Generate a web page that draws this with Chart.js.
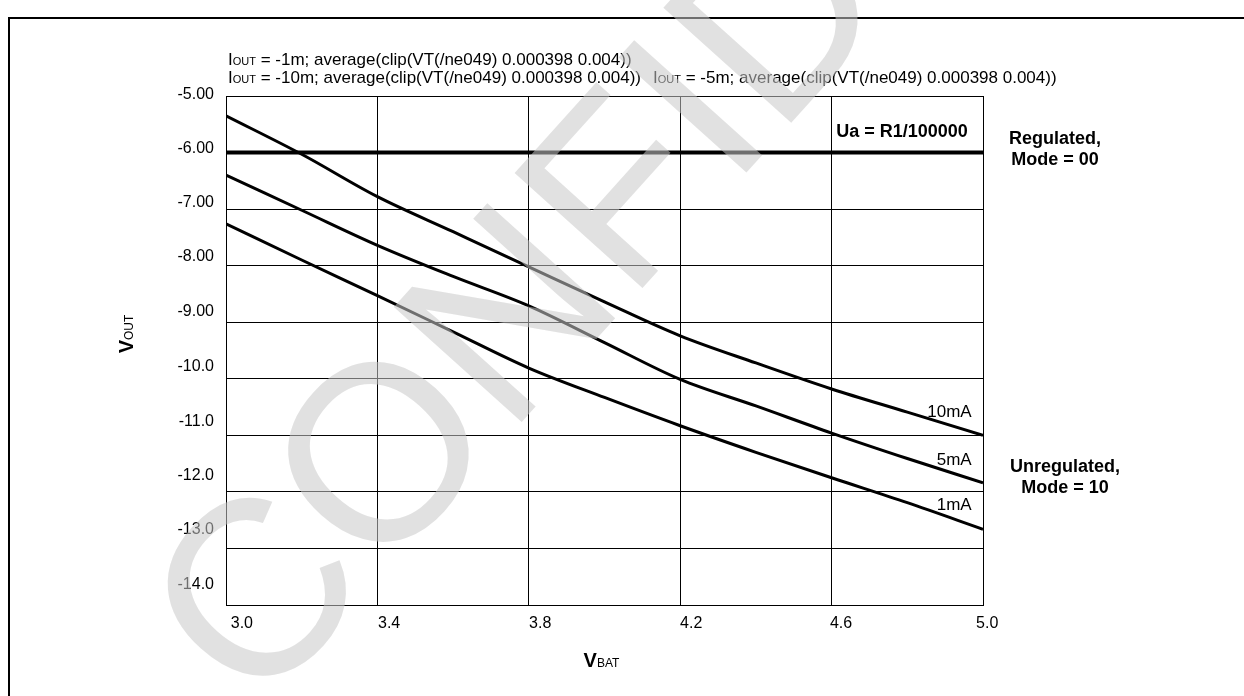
<!DOCTYPE html>
<html><head><meta charset="utf-8">
<script src="https://cdn.jsdelivr.net/npm/chart.js@4.4.1/dist/chart.umd.min.js"></script>
<style>html,body{margin:0;padding:0;background:#fff;}#wrap{width:1244px;height:696px;position:relative;}</style>
</head><body><div id="wrap"><canvas id="c" width="1244" height="696"></canvas></div>
<script>
// ---- data ----
const vbat = [3.0, 3.2, 3.4, 3.6, 3.8, 4.0, 4.2, 4.4, 4.6, 4.8, 5.0];
const vout10mA = [-5.35, -6.03, -6.78, -7.40, -8.02, -8.64, -9.24, -9.72, -10.18, -10.59, -11.00];
const vout5mA  = [-6.40, -7.02, -7.64, -8.19, -8.71, -9.36, -10.01, -10.48, -10.96, -11.41, -11.84];
const vout1mA  = [-7.26, -7.90, -8.53, -9.17, -9.81, -10.33, -10.83, -11.30, -11.75, -12.19, -12.66];
const regulatedX = [3.0, 5.0];
const regulatedY = [-6.0, -6.0];
const seriesNames = ['10mA', '5mA', '1mA'];
const xTicks = [3.0, 3.4, 3.8, 4.2, 4.6, 5.0];
const xTickLabels = ['3.0', '3.4', '3.8', '4.2', '4.6', '5.0'];
const yTicks = [-5, -6, -7, -8, -9, -10, -11, -12, -13, -14];
const yTickLabels = ['-5.00', '-6.00', '-7.00', '-8.00', '-9.00', '-10.0', '-11.0', '-12.0', '-13.0', '-14.0'];
const headerLabels = [
  ' = -1m; average(clip(VT(/ne049) 0.000398 0.004))',
  ' = -10m; average(clip(VT(/ne049) 0.000398 0.004))',
  ' = -5m; average(clip(VT(/ne049) 0.000398 0.004))'
];
const regLabel = 'Ua = R1/100000';

// ---- layout helpers (not data) ----
const xLabelShift = [0.042, 0.031, 0.030, 0.029, 0.025, 0.011];
const yLabelShift = [0.018, 0.075, 0.113, 0.158, 0.186, 0.208, 0.242, 0.287, 0.327, 0.367];
const FF = '"Liberation Sans", Arial, sans-serif';

function pts(xs, ys) { return xs.map((x, i) => ({ x: x, y: ys[i] })); }

function drawRuns(ctx, runs, x, y, align) {
  let w = 0;
  runs.forEach(r => { ctx.font = r.f; w += ctx.measureText(r.t).width; });
  let cx = align === 'center' ? x - w / 2 : (align === 'right' ? x - w : x);
  ctx.textAlign = 'left';
  runs.forEach(r => { ctx.font = r.f; ctx.fillText(r.t, cx, y); cx += ctx.measureText(r.t).width; });
  return w;
}

const textPlugin = {
  id: 'texts',
  beforeDraw(chart) {
    const ctx = chart.ctx;
    ctx.save();
    ctx.fillStyle = '#fff';
    ctx.fillRect(0, 0, chart.width, chart.height);
    ctx.strokeStyle = '#000';
    ctx.lineWidth = 2;
    ctx.beginPath();
    ctx.moveTo(9, 696); ctx.lineTo(9, 18); ctx.lineTo(1244, 18);
    ctx.stroke();
    ctx.restore();
  },
  afterDraw(chart) {
    const ctx = chart.ctx;
    const xs = chart.scales.x, ys = chart.scales.y;
    ctx.save();
    ctx.fillStyle = '#000';
    ctx.textBaseline = 'alphabetic';
    // header lines
    const big = '17px ' + FF, small = '11px ' + FF;
    drawRuns(ctx, [{ t: 'I', f: big }, { t: 'OUT', f: small }, { t: headerLabels[0], f: big }], 228, 65, 'left');
    const w = drawRuns(ctx, [{ t: 'I', f: big }, { t: 'OUT', f: small }, { t: headerLabels[1], f: big }], 228, 83, 'left');
    drawRuns(ctx, [{ t: 'I', f: big }, { t: 'OUT', f: small }, { t: headerLabels[2], f: big }], 228 + w + 12, 83, 'left');
    // axis titles
    drawRuns(ctx, [{ t: 'V', f: 'bold 20px ' + FF }, { t: 'BAT', f: '12px ' + FF }], (xs.left + xs.right) / 2 - 3, 667, 'center');
    ctx.save();
    ctx.translate(133, 334);
    ctx.rotate(-Math.PI / 2);
    drawRuns(ctx, [{ t: 'V', f: 'bold 20px ' + FF }, { t: 'OUT', f: '12px ' + FF }], 0, 0, 'center');
    ctx.restore();
    // annotations
    ctx.font = 'bold 18px ' + FF;
    ctx.textAlign = 'right';
    ctx.fillText(regLabel, xs.getPixelForValue(4.96), ys.getPixelForValue(-5.72));
    ctx.textAlign = 'center';
    ctx.fillText('Regulated,', 1055, 144);
    ctx.fillText('Mode = 00', 1055, 165);
    ctx.fillText('Unregulated,', 1065, 472);
    ctx.fillText('Mode = 10', 1065, 493);
    ctx.font = '17px ' + FF;
    ctx.textAlign = 'right';
    const lblY = [-10.67, -11.52, -12.32];
    seriesNames.forEach((n, i) => ctx.fillText(n, xs.getPixelForValue(4.97), ys.getPixelForValue(lblY[i])));
    // watermark
    ctx.save();
    ctx.translate(257, 716);
    ctx.rotate(-48 * Math.PI / 180);
    ctx.font = '250px ' + FF;
    ctx.textAlign = 'left';
    ctx.fillStyle = 'rgba(200,200,200,0.55)';
    ctx.fillText('CONFIDENTIAL', 0, 0);
    ctx.restore();
    ctx.restore();
  }
};

const xTickObjs = () => xTicks.map(v => ({ value: v, grid: true }))
  .concat(xTicks.map((v, i) => ({ value: v + xLabelShift[i], lbl: i })));
const yTickObjs = () => yTicks.map(v => ({ value: v, grid: true }))
  .concat(yTicks.map((v, i) => ({ value: v + yLabelShift[i], lbl: i })));
const gridColor = c => (c.tick && c.tick.grid) ? '#000' : 'rgba(0,0,0,0)';

const lineDs = (label, data, w) => ({
  label: label, data: data, borderColor: '#000', backgroundColor: '#000',
  borderWidth: w, pointRadius: 0, fill: false, cubicInterpolationMode: 'monotone'
});

new Chart(document.getElementById('c'), {
  type: 'line',
  data: {
    datasets: [
      lineDs('Regulated', pts(regulatedX, regulatedY), 4),
      lineDs(seriesNames[0], pts(vbat, vout10mA), 3),
      lineDs(seriesNames[1], pts(vbat, vout5mA), 3),
      lineDs(seriesNames[2], pts(vbat, vout1mA), 3)
    ]
  },
  options: {
    responsive: false, animation: false, devicePixelRatio: 1,
    layout: { padding: { left: 0, right: 261, top: 96, bottom: 0 } },
    plugins: { legend: { display: false }, tooltip: { enabled: false }, title: { display: false } },
    scales: {
      x: {
        type: 'linear', min: 3.0, max: 5.0,
        afterBuildTicks: s => { s.ticks = xTickObjs(); },
        afterFit: s => { s.height = 91; },
        ticks: {
          autoSkip: false, maxRotation: 0, padding: 9, color: '#000',
          font: { family: FF, size: 16 },
          callback: (v, i, t) => t[i].lbl !== undefined ? xTickLabels[t[i].lbl] : ''
        },
        grid: { color: gridColor, lineWidth: 1, drawTicks: false },
        border: { display: true, color: '#000', width: 1 }
      },
      y: {
        type: 'linear', min: -14, max: -5,
        afterBuildTicks: s => { s.ticks = yTickObjs(); },
        afterFit: s => { s.width = 226; },
        ticks: {
          autoSkip: false, padding: 12, color: '#000',
          font: { family: FF, size: 16 },
          callback: (v, i, t) => t[i].lbl !== undefined ? yTickLabels[t[i].lbl] : ''
        },
        grid: { color: gridColor, lineWidth: 1, drawTicks: false },
        border: { display: true, color: '#000', width: 1 }
      }
    }
  },
  plugins: [textPlugin]
});
</script>
</body></html>
